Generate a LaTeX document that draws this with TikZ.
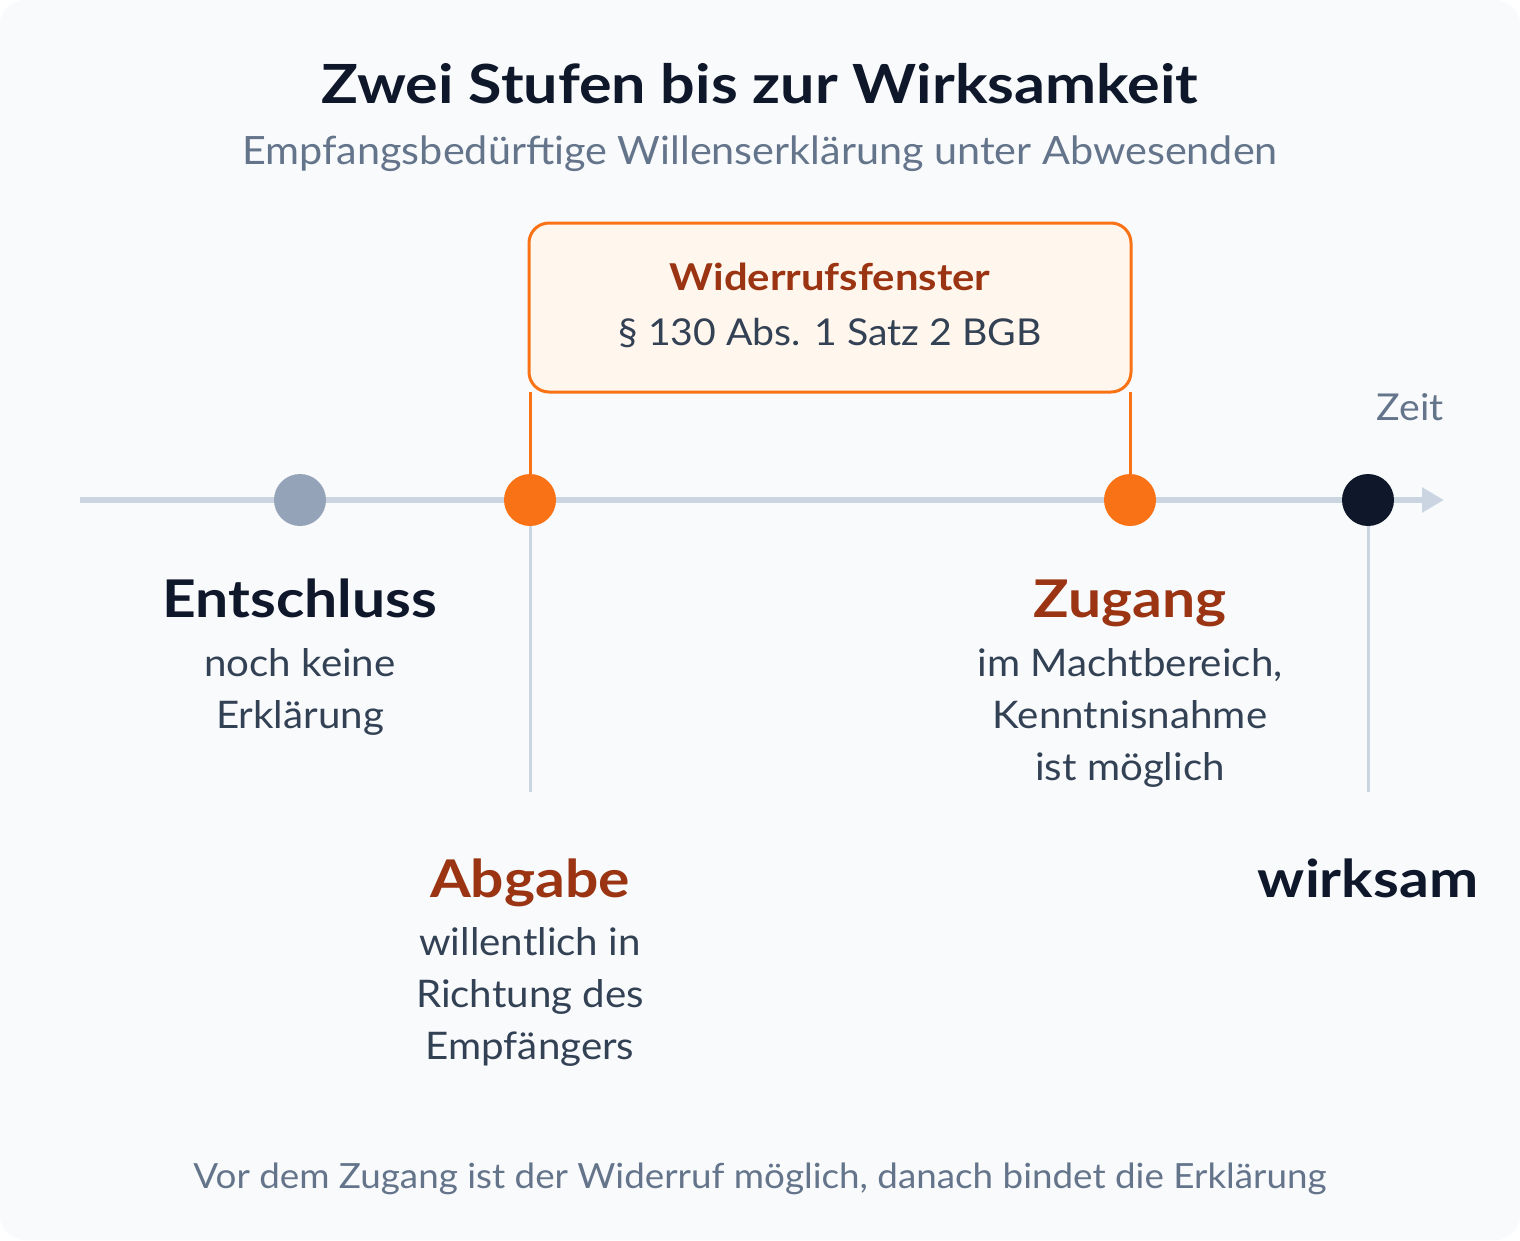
\documentclass[tikz,border=0pt]{standalone}
\usepackage{fontspec}
\setmainfont{Lato}[FakeStretch=1.06]
\newfontfamily\bfam{Lato}[FakeStretch=1.13]
\usetikzlibrary{arrows.meta}
\definecolor{bgc}{HTML}{F8FAFC}
\definecolor{axisc}{HTML}{CBD5E1}
\definecolor{grayc}{HTML}{94A3B8}
\definecolor{orangec}{HTML}{F97316}
\definecolor{darkc}{HTML}{0F172A}
\definecolor{brownc}{HTML}{9A3412}
\definecolor{bodyc}{HTML}{334155}
\definecolor{mutedc}{HTML}{64748B}
\definecolor{boxfill}{HTML}{FFF7ED}
\tikzset{
  txt/.style={anchor=base, inner sep=0pt, outer sep=0pt},
  titlef/.style={txt, text=darkc, font=\bfam\fontsize{54}{60}\selectfont\bfseries},
  subf/.style={txt, text=mutedc, font=\fontsize{39}{44}\selectfont},
  headf/.style={txt, font=\bfam\fontsize{52}{60}\selectfont\bfseries},
  descf/.style={txt, text=bodyc, font=\fontsize{38}{52}\selectfont},
  dot/.style={circle, minimum size=52pt, inner sep=0pt, draw=none},
  axisline/.style={draw=axisc, line width=6pt},
  tick/.style={draw=axisc, line width=3pt},
  otick/.style={draw=orangec, line width=3pt},
}
\begin{document}
\begin{tikzpicture}[x=1pt, y=-1pt]
\useasboundingbox (0,0) rectangle (1520,1240);
\fill[bgc, rounded corners=24pt] (0,0) rectangle (1520,1240);

% title
\node[titlef] (title) at (760,103) {Zwei Stufen bis zur Wirksamkeit};
\node[subf] (sub) at (760,164) {Empfangsbedürftige Willenserklärung unter Abwesenden};

% axis
\coordinate (axs) at (80,500);
\coordinate (axe) at (1444,500);
\draw[axisline, -{Triangle[length=22pt,width=24pt]}] (axs) -- (axe);
\node[txt, text=mutedc, font=\fontsize{37}{44}\selectfont] (zeit) at (1410,420) {Zeit};

% window box
\node[draw=orangec, line width=3pt, fill=boxfill, rounded corners=20pt,
      minimum width=602pt, minimum height=169pt, inner sep=0pt, outer sep=0pt] (box) at (830,307.5) {};
\node[txt, text=brownc, font=\bfam\fontsize{37}{44}\selectfont\bfseries] (boxt) at (830,290) {Widerrufsfenster};
\node[txt, text=bodyc, font=\fontsize{37}{44}\selectfont] (boxs) at (830,345) {§ 130 Abs. 1 Satz 2 BGB};

% event points
\coordinate (p1) at (300,500);
\coordinate (p2) at (530,500);
\coordinate (p3) at (1130,500);
\coordinate (p4) at (1368,500);
\coordinate (t1) at (530,792);
\coordinate (t2) at (1368,792);

\draw[tick] (p2) -- (t1);
\draw[tick] (p4) -- (t2);
\draw[otick] (p2 |- box.south) -- (p2);
\draw[otick] (p3 |- box.south) -- (p3);

\node[dot, fill=grayc] (d1) at (p1) {};
\node[dot, fill=orangec] (d2) at (p2) {};
\node[dot, fill=orangec] (d3) at (p3) {};
\node[dot, fill=darkc] (d4) at (p4) {};

% labels
\node[headf, text=darkc] (h1) at (300,617) {Entschluss};
\node[descf] (e1a) at (300,676) {noch keine};
\node[descf] (e1b) at (300,728) {Erklärung};

\node[headf, text=brownc] (h2) at (530,897) {Abgabe};
\node[descf] (e2a) at (530,955) {willentlich in};
\node[descf] (e2b) at (530,1007) {Richtung des};
\node[descf] (e2c) at (530,1059) {Empfängers};

\node[headf, text=brownc] (h3) at (1130,617) {Zugang};
\node[descf] (e3a) at (1130,676) {im Machtbereich,};
\node[descf] (e3b) at (1130,728) {Kenntnisnahme};
\node[descf] (e3c) at (1130,780) {ist möglich};

\node[headf, text=darkc] (h4) at (1368,897) {wirksam};

% footer
\node[txt, text=mutedc, font=\fontsize{34.7}{40}\selectfont] (foot) at (760,1188) {Vor dem Zugang ist der Widerruf möglich, danach bindet die Erklärung};
\end{tikzpicture}
\end{document}
